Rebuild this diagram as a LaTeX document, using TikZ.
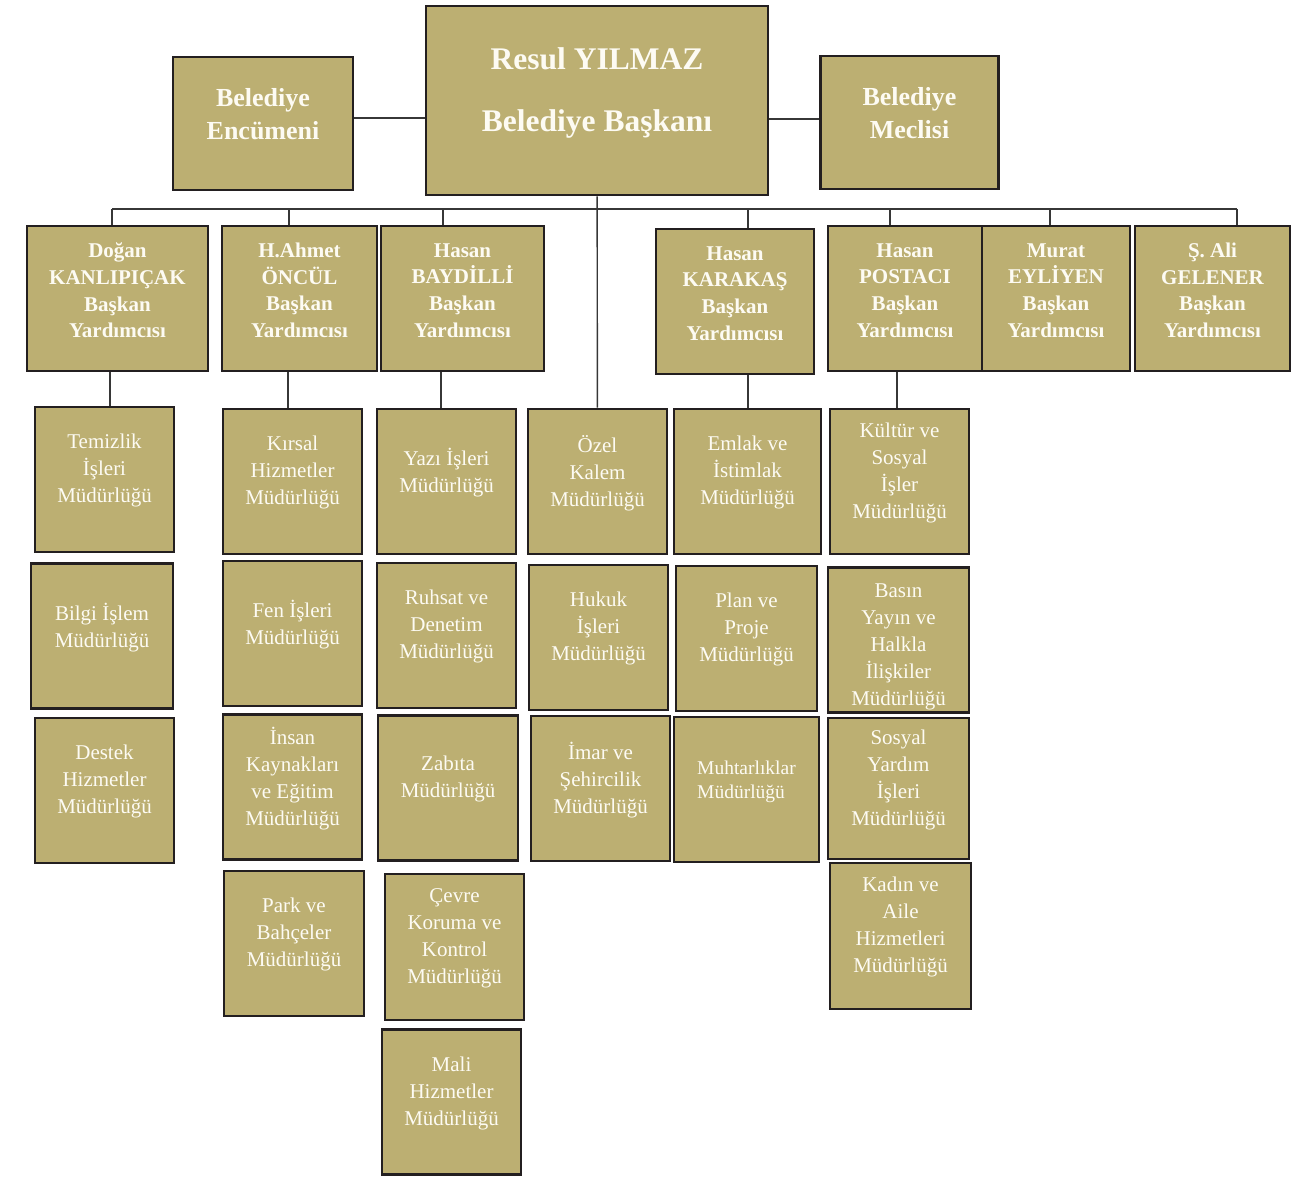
\documentclass[tikz,border=0pt]{standalone}
\usepackage{fontspec}
\setmainfont{Liberation Serif}
\usepackage{tikz}
\usetikzlibrary{positioning}

\definecolor{boxfill}{RGB}{188,175,114}
\definecolor{boxline}{RGB}{35,31,32}
\definecolor{boxtext}{RGB}{253,251,243}
\definecolor{linecol}{RGB}{55,55,55}

\tikzset{
  box/.style={draw=boxline,line width=2.6pt,fill=boxfill,text=boxtext,align=center,inner sep=2pt},
  head/.style={box,font=\bfseries\fontsize{21}{26.7}\selectfont,minimum height=145pt,text depth=16.5pt},
  dept/.style={box,font=\fontsize{21}{27}\selectfont,minimum width=140pt,minimum height=145pt,text depth=22pt},
  link/.style={draw=linecol,line width=1.4pt}
}

\begin{document}
\begin{tikzpicture}[x=1pt,y=-1pt,node distance=154pt,on grid]
  \useasboundingbox (0,0) rectangle (1295,1177);
  % top row
  \node[box,font=\bfseries\fontsize{31.5}{62}\selectfont,minimum width=342pt,minimum height=189pt,text depth=21pt] (baskan) at (597,100.5) {Resul YILMAZ\\Belediye Başkanı};
  \node[box,font=\bfseries\fontsize{26}{33}\selectfont,minimum width=180pt,minimum height=133pt,text depth=20pt] (encumeni) at (263,123.5) {Belediye\\Encümeni};
  \node[box,font=\bfseries\fontsize{26}{33}\selectfont,minimum width=178pt,minimum height=133pt,text depth=20pt] (meclis) at (909.5,122.5) {Belediye\\Meclisi};
  % baskan yardimcilari
  \node[head,minimum width=181pt] (dogan) at (117.5,298.5) {Doğan\\KANLIPIÇAK\\Başkan\\Yardımcısı};
  \node[head,minimum width=155pt] (ahmet) at (299.5,298.5) {H.Ahmet\\ÖNCÜL\\Başkan\\Yardımcısı};
  \node[head,minimum width=163pt] (baydilli) at (462.5,298.5) {Hasan\\BAYDİLLİ\\Başkan\\Yardımcısı};
  \node[head,minimum width=158pt] (karakas) at (735,301.5) {Hasan\\KARAKAŞ\\Başkan\\Yardımcısı};
  \node[head,minimum width=154pt] (postaci) at (905,298.5) {Hasan\\POSTACI\\Başkan\\Yardımcısı};
  \node[head,minimum width=148pt] (murat) at (1056,298.5) {Murat\\EYLİYEN\\Başkan\\Yardımcısı};
  \node[head,minimum width=155pt] (ali) at (1212.5,298.5) {Ş. Ali\\GELENER\\Başkan\\Yardımcısı};
  % mudurlukler
  \node[dept,minimum width=139pt] (temizlik) at (104.5,479.5) {Temizlik\\İşleri\\Müdürlüğü};
  \node[dept,minimum width=142pt] (bilgi) [below=156.5pt of temizlik,xshift=-2.5pt] {Bilgi İşlem\\Müdürlüğü};
  \node[dept,minimum width=139pt] (destek) [below=154.5pt of bilgi,xshift=2.5pt] {Destek\\Hizmetler\\Müdürlüğü};
  \node[dept,minimum width=139pt] (kirsal) at (292.5,481.5) {Kırsal\\Hizmetler\\Müdürlüğü};
  \node[dept,minimum width=139pt] (fen) [below=152pt of kirsal] {Fen İşleri\\Müdürlüğü};
  \node[dept,minimum width=139pt] (insan) [below=153.5pt of fen] {İnsan\\Kaynakları\\ve Eğitim\\Müdürlüğü};
  \node[dept] (park) [below=156.5pt of insan,xshift=1.5pt] {Park ve\\Bahçeler\\Müdürlüğü};
  \node[dept,minimum width=139pt] (yazi) at (446.5,481.5) {Yazı İşleri\\Müdürlüğü};
  \node[dept,minimum width=139pt] (ruhsat) [below=of yazi] {Ruhsat ve\\Denetim\\Müdürlüğü};
  \node[dept] (zabita) [below=152.5pt of ruhsat,xshift=1.5pt] {Zabıta\\Müdürlüğü};
  \node[dept,minimum width=139pt] (cevre) [below=159pt of zabita,xshift=6.5pt,minimum height=146pt] {Çevre\\Koruma ve\\Kontrol\\Müdürlüğü};
  \node[dept,minimum width=139pt] (mali) [below=155pt of cevre,xshift=-3pt] {Mali\\Hizmetler\\Müdürlüğü};
  \node[dept,minimum width=139pt] (ozel) at (597.5,481.5) {Özel\\Kalem\\Müdürlüğü};
  \node[dept,minimum width=139pt] (hukuk) [below=156pt of ozel,xshift=1pt] {Hukuk\\İşleri\\Müdürlüğü};
  \node[dept,minimum width=139pt] (imar) [below=151pt of hukuk,xshift=2pt] {İmar ve\\Şehircilik\\Müdürlüğü};
  \node[dept,minimum width=147pt] (emlak) at (747.5,481.5) {Emlak ve\\İstimlak\\Müdürlüğü};
  \node[dept,minimum width=141pt] (plan) [below=157pt of emlak,xshift=-1pt] {Plan ve\\Proje\\Müdürlüğü};
  \node[dept,minimum width=145pt,align=left,font=\fontsize{19.5}{24}\selectfont,text depth=19pt] (muhtar) [below=151pt of plan] {Muhtarlıklar\\Müdürlüğü};
  \node[dept,minimum width=139pt] (kultur) at (899.5,481.5) {Kültür ve\\Sosyal\\İşler\\Müdürlüğü};
  \node[dept,minimum width=141pt,text height=136pt,text depth=4.6pt] (basin) [below=158.5pt of kultur,xshift=-1pt] {Basın\\Yayın ve\\Halkla\\İlişkiler\\Müdürlüğü};
  \node[dept,minimum width=141pt,minimum height=141pt] (sosyal) [below=148.5pt of basin] {Sosyal\\Yardım\\İşleri\\Müdürlüğü};
  \node[dept,minimum width=141pt,minimum height=146pt] (kadin) [below=147.5pt of sosyal,xshift=2pt] {Kadın ve\\Aile\\Hizmetleri\\Müdürlüğü};
  % connectors
  \coordinate (e1) at ([yshift=5.5pt]encumeni.east);
  \coordinate (m1) at ([yshift=3.5pt]meclis.west);
  \draw[link] (e1) -- (e1 -| baskan.west);
  \draw[link] (m1) -- (m1 -| baskan.east);
  \draw[link] (baskan) -- (ozel);
  \draw[link] (112,209) -- (1237,209);
  \foreach \n/\x in {dogan/112,ahmet/289,baydilli/443,karakas/748,postaci/890,murat/1050,ali/1237}
    \draw[link] (\x,209) -- (\x,209 |- \n.north);
  \foreach \a/\b/\x in {dogan/temizlik/110,ahmet/kirsal/288,baydilli/yazi/441,karakas/emlak/748,postaci/kultur/897}
    \draw[link] (\x,0 |- \a.south) -- (\x,0 |- \b.north);
\end{tikzpicture}
\end{document}
